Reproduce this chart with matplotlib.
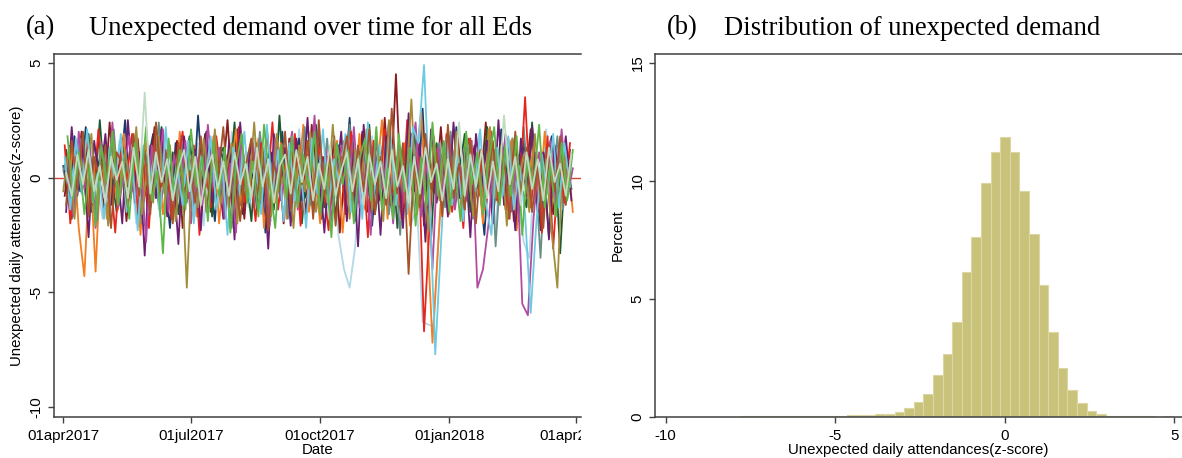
import numpy as np
import pandas as pd
import matplotlib
matplotlib.use('Agg')
import matplotlib.pyplot as plt
from matplotlib.transforms import Bbox

plt.rcParams['font.family'] = ['Liberation Sans', 'DejaVu Sans']
plt.rcParams['axes.unicode_minus'] = False

# panel (a): unexpected daily attendances per ED (z-score x10), one value every 4 days
ed_lightblue = [-4,10,-15,7,-9,14,-2,-18,12,-6, 16,-11,5,-20,13,-7,9,-14,18,-3,
                11,-17,6,-10,15,-21,8,-4,13,-16, 20,-8,3,-13,17,-5,10,-19,14,-9,
                7,-15,21,-6,12,-12,4,-18,16,-25, -40,-48,-30,9,-13,18,-7,11,-16,5,
                -10,14,-20,-12,-63,-64,-65,-20,15,-8, 12,-17,6,-11,19,-14,8,-22,13,-5,
                17,-10,-28,-35,9,-15,21,-7,14,-12, 6]
ed_navy = [5,-12,18,-6,22,-15,3,14,-20,8, -3,25,-9,12,-17,6,19,-11,2,-22,
           15,-4,10,-14,27,-8,4,-19,13,1, -10,21,-16,7,-2,16,-24,11,-7,20,
           -13,5,17,-9,-1,23,-18,9,-12,14, -5,26,-15,3,18,-21,8,-6,24,-11,
           12,-3,19,-16,30,-20,6,-9,15,-13, 22,-4,10,-17,2,-25,13,-8,21,-14,
           5,-19,16,-2,11,-23,7,18,-10,4, -6]
ed_maroon = [-8,14,-3,20,-17,9,2,-13,24,-6, 11,-19,7,17,-10,-1,22,-14,5,-9,
             16,-22,3,12,-7,19,-15,8,-4,25, -11,6,-18,14,0,-13,21,-5,10,-20,
             17,-8,4,-16,23,-2,9,-12,18,-24, 7,13,-6,20,-15,2,-10,26,-9,45,
             -14,11,-3,16,-21,8,-7,22,-12,5, 19,-17,1,14,-8,24,-13,6,-4,17,
             -19,10,-2,21,-11,3,15,-16,8,-5, 12]
ed_dkgreen = [12,-18,6,-2,19,-11,25,-7,3,-15, 17,-4,9,-21,14,-13,2,22,-8,11,
              -16,5,18,-10,-1,20,-17,8,13,-6, 24,-12,4,-19,15,-3,10,-14,27,-9,
              1,16,-20,7,-5,21,-13,12,-18,9, -2,18,-11,6,23,-16,3,-8,14,-22,
              11,-4,20,-12,8,-27,15,-6,17,-10, 2,19,-15,9,-7,22,-18,5,13,-9,
              16,-3,-13,24,-11,7,-26,12,-33,10, -5]
ed_orange = [-10,15,-22,-43,8,-41,12,-18,4,-14, 19,-7,10,-25,16,-3,13,-16,6,-12,
             20,-9,2,-17,14,-5,18,-20,7,-1, 21,-13,9,-6,17,-22,5,-11,15,-18,
             10,-4,23,-15,3,-20,12,-8,16,-24, 6,-10,19,-14,11,-2,25,-18,8,-12,
             15,-21,4,29,-19,-72,-30,10,-16,13, -6,18,-11,7,-20,21,-9,3,-14,16,
             -23,9,-5,14,-12,20,-17,6,-8,11, -15]
ed_teal = [3,11,-15,17,-8,6,-19,13,-2,21, -12,8,-5,16,-20,10,-9,24,-4,1,
           -14,18,-11,7,-17,12,-3,19,-10,4, -22,15,-6,11,-13,20,-1,-16,9,14,
           -18,5,-9,22,-12,8,-4,17,-15,10, -7,23,-19,6,-2,13,-11,18,-16,9,
           -25,12,-5,16,-8,-21,7,15,-13,20, -10,3,14,-18,11,-6,19,-30,8,-3,
           17,-12,22,-9,5,-35,13,-7,18,-14, 6]
ed_red = [14,-20,9,-3,17,-12,21,-7,5,-24, 11,-1,19,-15,8,-22,16,-6,12,-18,
          3,20,-9,14,-25,7,-13,18,-2,10, -17,22,-11,4,-19,15,-8,24,-14,6,
          -5,19,-21,12,-10,17,-3,-23,9,13, -16,20,-7,11,-26,16,-4,21,-12,8,
          -18,25,-9,13,-67,-20,14,-6,19,-15, 7,-22,17,-3,12,-14,20,-10,5,-18,
          16,-8,35,-13,10,-24,18,-31,7,-11, 15]
ed_purple = [-15,22,-8,13,-26,16,-3,19,-12,8, -20,25,-6,11,-34,14,-9,21,-17,5,
             -29,18,-2,12,-23,20,-11,7,-18,15, -27,24,-5,16,-14,9,-31,19,-7,13,
             -21,17,-10,26,-16,6,-24,12,-4,20, -19,11,-30,23,-8,14,-25,18,-13,9,
             -22,28,-6,15,-28,21,-11,10,-17,24, -9,13,-26,19,-5,16,-20,25,-12,7,
             -23,17,-8,22,-15,11,-27,14,-4,18, -10]
ed_magenta = [8,-17,20,-5,12,-22,15,-9,24,-13, 3,18,-11,7,-28,14,-2,21,-15,10,
              -7,16,-20,9,-12,23,-4,13,-18,6, -24,19,-8,15,-3,11,-21,17,-10,5,
              20,-14,8,-6,27,-16,12,-19,4,14, -9,22,-13,7,-25,17,-5,10,-20,15,
              -11,6,24,-17,9,-40,13,-8,18,-14, 5,-10,16,-48,-40,-20,12,-7,19,-15,
              8,-55,-60,-18,11,-6,16,-13,21,-9, 4]
ed_olive = [-6,13,-18,9,-2,19,-14,7,-21,16, -9,12,-4,22,-16,5,-11,18,-7,14,
            -19,8,-48,10,-13,17,-5,21,-12,3, 15,-20,11,-8,24,-10,6,-17,19,-3,
            9,-22,14,-6,20,-15,2,-11,23,-8, 16,-18,12,-4,21,-14,7,-19,25,-9,
            13,-5,34,-16,8,-23,18,-10,15,-12, 20,-7,11,-17,6,-13,22,-9,14,-21,
            17,-4,10,-15,19,-11,8,-24,-48,12, -7]
ed_skyblue = [9,-14,17,-7,21,-11,4,-18,13,-2, 19,-15,8,-23,14,-5,11,-17,22,-9,
              6,-12,16,-20,10,-3,18,-14,7,-25, 13,-8,20,-11,3,-16,23,-6,12,-19,
              15,-10,4,-22,17,-7,21,-13,8,-4, 19,-15,11,-18,24,-9,14,-5,20,-12,
              7,-16,22,15,49,-10,-77,-30,17,-12, 9,-19,14,-6,21,-11,-25,13,-8,18,
              -14,5,-16,-59,-20,10,-7,19,-13,15, -4]
ed_brown = [-12,16,-5,20,-17,9,-1,14,-22,11, 6,-13,19,-8,12,-16,24,-4,10,-20,
            15,-7,3,-11,18,-15,8,-2,22,-13, 11,-19,5,17,-9,13,-23,7,-6,20,
            -14,10,-3,16,-18,25,-8,12,-21,4, 18,-10,14,-6,21,-16,9,-12,30,-7,
            15,-42,8,-13,19,-5,11,-17,23,-9, 6,-14,17,-20,12,-3,16,-11,9,-18,
            20,-8,13,-15,5,-22,14,-6,18,-12, 10]
ed_green = [18,-9,11,-16,6,-21,14,-3,20,-12, 8,-18,15,-5,22,-10,3,-33,17,-7,
            12,-14,21,-4,9,-19,16,-8,13,-24, 5,19,-11,7,-17,23,-2,-22,14,-9,
            18,-13,10,-5,20,-16,6,-26,15,-3, 12,-20,8,17,-10,22,-14,4,-18,19,
            -6,13,-21,9,-12,24,-8,16,-15,5, -19,20,-3,11,-16,7,22,-12,14,-8,
            18,-25,9,-4,23,-13,6,-17,15,-10, 12]
ed_palegreen = [2,-8,10,-3,12,-6,5,-11,9,-1, 7,-9,13,-4,37,-7,11,-2,8,-10,
                4,12,-6,9,-12,3,10,-5,7,-8, 11,-3,6,-9,13,-4,8,-11,5,10,
                -7,12,-2,9,-10,6,-5,14,-8,3, 11,-6,8,-12,10,-3,7,-9,12,-4,
                5,-11,9,-7,13,-2,6,-10,8,-5, 24,-8,10,-4,12,-9,7,-6,27,-3,
                9,-12,11,-5,8,-10,13,-2,6,-8, 10]

date_ticks = ['2017-04-01', '2017-07-01', '2017-10-01', '2018-01-01', '2018-04-01']
date_labels = ['01apr2017', '01jul2017', '01oct2017', '01jan2018', '01apr2018']

# panel (b): histogram of z-scores (percent per bin)
bin_start = -7.77
bin_width = 0.283
pct = [0.02, 0.02, 0.02, 0.02, 0.02, 0.02, 0.03, 0.03, 0.03, 0.04,
       0.04, 0.05, 0.06, 0.08, 0.10, 0.12, 0.18, 0.35, 0.63, 0.94,
       1.75, 2.64, 3.99, 6.11, 7.63, 9.92, 11.22, 11.83, 11.22, 9.58,
       7.75, 5.56, 3.57, 2.04, 1.12, 0.56, 0.22, 0.09, 0.03, 0.02,
       0.02, 0.01, 0.01, 0.0, 0.02]

# (values, colour, start offset in days)
lines = [
    (ed_lightblue, '#b3d8e8', 0),
    (ed_navy, '#1b3b6b', 0),
    (ed_maroon, '#8a1b1f', 1),
    (ed_dkgreen, '#1d5a33', 2),
    (ed_orange, '#f47c21', 3),
    (ed_teal, '#6b8f86', 0),
    (ed_red, '#e6261d', 1),
    (ed_purple, '#6c1f6f', 2),
    (ed_magenta, '#b24aa0', 3),
    (ed_olive, '#a38c3b', 0),
    (ed_skyblue, '#6ccbe3', 1),
    (ed_brown, '#a4532a', 2),
    (ed_green, '#5db647', 3),
    (ed_palegreen, '#bfdcc1', 2),
]

spine_col = '#404040'
fig = plt.figure(figsize=(11.82, 4.58), dpi=100)
ax1 = fig.add_axes([54 / 1182, 41.5 / 458, 527 / 1182, 362.5 / 458])
ax2 = fig.add_axes([655 / 1182, 41.5 / 458, 527 / 1182, 362.5 / 458])

start = pd.Timestamp('2017-04-01')
ax1.axhline(0, color='#d0463d', lw=1.0, zorder=1)
for vals, col, off in lines:
    d = pd.date_range(start + pd.Timedelta(days=off), periods=len(vals), freq='4D')
    ax1.plot(d, np.array(vals) / 10.0, color=col, lw=1.3, zorder=2)

ax1.set_xlim(pd.Timestamp('2017-03-25 09:00'), pd.Timestamp('2018-04-04 20:00'))
ax1.set_ylim(-10.41, 5.38)
ax1.set_yticks([-10, -5, 0, 5])
ax1.set_xticks(pd.to_datetime(date_ticks))
ax1.set_xticklabels(date_labels)
ax1.set_xlabel('Date', fontsize=10.8, labelpad=0)
ax1.set_ylabel('Unexpected daily attendances(z-score)', fontsize=10.8, labelpad=4)

edges = bin_start + bin_width * np.arange(len(pct))
ax2.bar(edges, pct, width=bin_width, align='edge', color='#c9c27b',
        edgecolor='#dcd7a2', linewidth=0.8, zorder=2)
ax2.set_xlim(-10.31, 5.23)
ax2.set_ylim(0, 15.37)
ax2.set_xticks([-10, -5, 0, 5])
ax2.set_yticks([0, 5, 10, 15])
ax2.set_xlabel('Unexpected daily attendances(z-score)', fontsize=10.8, labelpad=0)
ax2.set_ylabel('Percent', fontsize=10.8, labelpad=4)

for ax in (ax1, ax2):
    ax.spines['right'].set_visible(False)
    for s in ('left', 'top', 'bottom'):
        ax.spines[s].set_color(spine_col)
        ax.spines[s].set_linewidth(1.1)
    ax.tick_params(length=4.5, width=1.0, color=spine_col, labelsize=10.8, pad=4.5)
    ax.tick_params(axis='y', labelrotation=90, pad=3)
    for lbl in ax.get_yticklabels():
        lbl.set_va('center')

# the left panel is cropped at its right edge in the original, cutting the last date label
clip = Bbox.from_extents(0, 0, 581, 458)
for lbl in ax1.get_xticklabels():
    lbl.set_clip_box(clip)
    lbl.set_clip_on(True)

fig.text(26 / 1182, 1 - 34.6 / 458, '(a)', family='Liberation Serif', fontsize=19.2)
fig.text(89 / 1182, 1 - 34.6 / 458, 'Unexpected demand over time for all Eds',
         family='Liberation Serif', fontsize=19.2)
fig.text(667 / 1182, 1 - 34.6 / 458, '(b)', family='Liberation Serif', fontsize=19.2)
fig.text(724 / 1182, 1 - 34.6 / 458, 'Distribution of unexpected demand',
         family='Liberation Serif', fontsize=19.2)

fig.savefig('out.png', dpi=100)
